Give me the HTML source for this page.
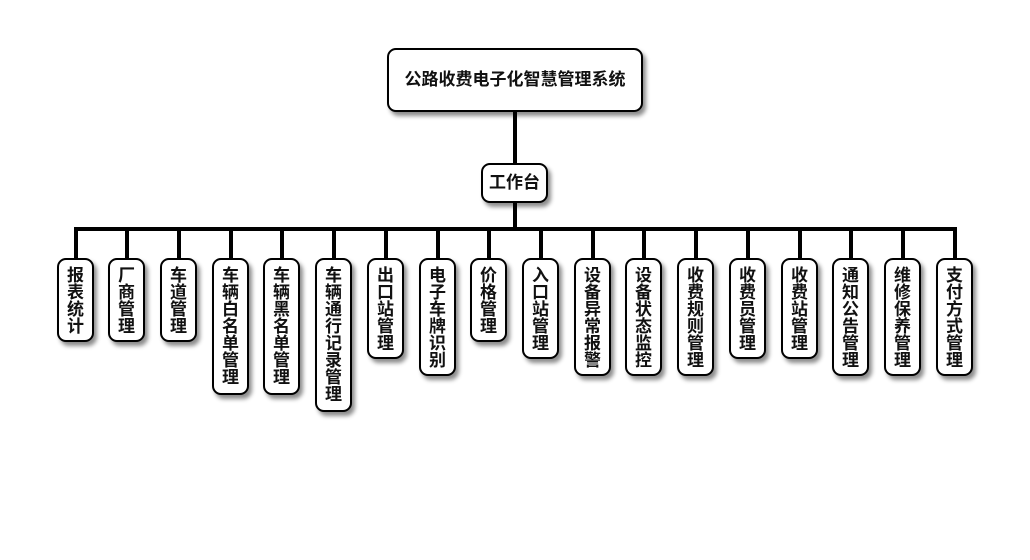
<!DOCTYPE html>
<html><head><meta charset="utf-8"><style>
body{margin:0;width:1030px;height:560px;background:#fff;position:relative;overflow:hidden;font-family:"Liberation Sans","Noto Sans CJK SC",sans-serif;}
.l{position:absolute;background:#000;}
.b{position:absolute;box-sizing:border-box;border:2px solid #000;border-radius:9px;background:#fff;box-shadow:3px 4px 4px rgba(0,0,0,0.45);font-weight:bold;color:#111;}
.v{width:37px;top:258px;font-size:17px;line-height:17px;text-align:center;padding:7px 10px 0 8px;word-break:break-all;}
</style></head><body>
<div class="l" style="left:513px;top:112px;width:4px;height:52px"></div>
<div class="l" style="left:513px;top:202px;width:4px;height:27px"></div>
<div class="l" style="left:74px;top:227px;width:883px;height:4px"></div>
<div class="b" style="left:387px;top:48px;width:256px;height:64px;font-size:17px;line-height:60px;text-align:center">公路收费电子化智慧管理系统</div>
<div class="b" style="left:481px;top:163px;width:67px;height:40px;font-size:17px;line-height:36px;text-align:center">工作台</div>
<div id="c"></div>
<div class="l" style="left:74px;top:229px;width:4px;height:30px"></div>
<div class="l" style="left:125px;top:229px;width:4px;height:30px"></div>
<div class="l" style="left:177px;top:229px;width:4px;height:30px"></div>
<div class="l" style="left:229px;top:229px;width:4px;height:30px"></div>
<div class="l" style="left:280px;top:229px;width:4px;height:30px"></div>
<div class="l" style="left:332px;top:229px;width:4px;height:30px"></div>
<div class="l" style="left:384px;top:229px;width:4px;height:30px"></div>
<div class="l" style="left:436px;top:229px;width:4px;height:30px"></div>
<div class="l" style="left:487px;top:229px;width:4px;height:30px"></div>
<div class="l" style="left:539px;top:229px;width:4px;height:30px"></div>
<div class="l" style="left:591px;top:229px;width:4px;height:30px"></div>
<div class="l" style="left:642px;top:229px;width:4px;height:30px"></div>
<div class="l" style="left:694px;top:229px;width:4px;height:30px"></div>
<div class="l" style="left:746px;top:229px;width:4px;height:30px"></div>
<div class="l" style="left:798px;top:229px;width:4px;height:30px"></div>
<div class="l" style="left:849px;top:229px;width:4px;height:30px"></div>
<div class="l" style="left:901px;top:229px;width:4px;height:30px"></div>
<div class="l" style="left:953px;top:229px;width:4px;height:30px"></div>
<div class="b v" style="left:57px;height:84px">报表统计</div>
<div class="b v" style="left:108px;height:84px">厂商管理</div>
<div class="b v" style="left:160px;height:84px">车道管理</div>
<div class="b v" style="left:212px;height:137px">车辆白名单管理</div>
<div class="b v" style="left:263px;height:137px">车辆黑名单管理</div>
<div class="b v" style="left:315px;height:154px">车辆通行记录管理</div>
<div class="b v" style="left:367px;height:101px">出口站管理</div>
<div class="b v" style="left:419px;height:118px">电子车牌识别</div>
<div class="b v" style="left:470px;height:84px">价格管理</div>
<div class="b v" style="left:522px;height:101px">入口站管理</div>
<div class="b v" style="left:574px;height:118px">设备异常报警</div>
<div class="b v" style="left:625px;height:118px">设备状态监控</div>
<div class="b v" style="left:677px;height:118px">收费规则管理</div>
<div class="b v" style="left:729px;height:101px">收费员管理</div>
<div class="b v" style="left:781px;height:101px">收费站管理</div>
<div class="b v" style="left:832px;height:118px">通知公告管理</div>
<div class="b v" style="left:884px;height:118px">维修保养管理</div>
<div class="b v" style="left:936px;height:118px">支付方式管理</div>
</body></html>
